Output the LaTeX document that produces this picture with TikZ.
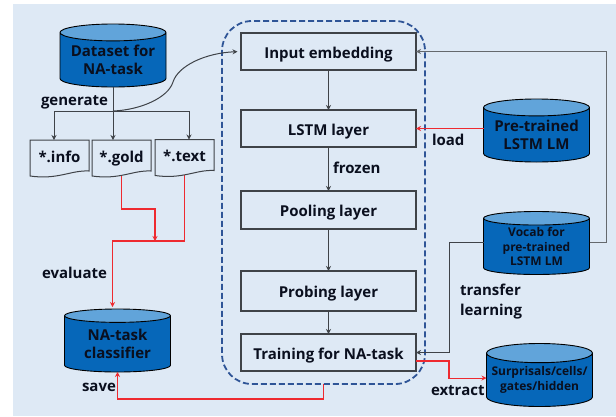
\documentclass[tikz,border=0pt]{standalone}
\usepackage{fontspec}
\setmainfont{Open Sans}
\usetikzlibrary{arrows.meta,shapes.geometric,calc}
\definecolor{bgc}{HTML}{DEE9F5}
\definecolor{bodyc}{HTML}{0667B9}
\definecolor{topc}{HTML}{61A4DA}
\definecolor{dashc}{HTML}{2F5597}
\definecolor{redc}{HTML}{EE2A30}
\definecolor{linec}{HTML}{3F4348}
\definecolor{inkc}{HTML}{0A0F1E}
\tikzset{
  x=1pt,y=-1pt,
  lay/.style={draw=linec,line width=1.2pt,fill=bgc,minimum width=175pt,text=inkc,font=\fontsize{15}{17}\selectfont\bfseries,inner sep=0pt,outer sep=0pt,text height=14pt,text depth=1pt},
  cyl/.style={cylinder,anchor=shape center,shape border rotate=90,aspect=0.2,draw=black,line width=0.9pt,cylinder uses custom fill,cylinder body fill=bodyc,cylinder end fill=topc,minimum width=106pt,minimum height=63pt,inner sep=0pt,outer sep=0pt,align=center,text=inkc,font=\fontsize{15}{18}\selectfont\bfseries},
  docn/.style={minimum width=59pt,minimum height=31pt,inner sep=0pt,outer sep=0pt,text=inkc,font=\fontsize{15}{17}\selectfont\bfseries,text height=14pt,text depth=1pt},
  lbl/.style={inner sep=0pt,outer sep=0pt,text=inkc,font=\fontsize{15}{19.5}\selectfont\bfseries,align=left},
  conn/.style={draw=linec,line width=1pt,-{Stealth[length=5pt,width=5pt]}},
  redconn/.style={draw=redc,line width=1.05pt,-{Stealth[length=5pt,width=5pt]}},
  docw/.style={draw=linec,line width=1pt,fill=bgc},
}
\newcommand{\docwave}[1]{%
  \draw[docw] (#1.north west) -- (#1.north east) -- (#1.south east)
    .. controls ($(#1.south east)+(-18,-1)$) and ($(#1.south west)+(28,9)$) .. ($(#1.south west)+(0,5)$) -- cycle;}
\begin{document}
\begin{tikzpicture}
\useasboundingbox (0,0) rectangle (616,416);
\fill[bgc] (13,4) rectangle (616,416);

\node[draw=dashc,line width=1.8pt,dash pattern=on 6pt off 3pt,rounded corners=30pt,minimum width=203pt,minimum height=363pt,inner sep=0pt,outer sep=0pt] (frame) at (323.5,202.5) {};

\node[lay,minimum height=37pt] (input) at (328.5,51.5) {Input embedding};
\node[lay,minimum height=37pt] (lstm) at (328.5,128.5) {LSTM layer};
\node[lay,minimum height=38pt] (pool) at (328.5,210) {Pooling layer};
\node[lay,minimum height=40pt] (probe) at (328.5,291) {Probing layer};
\node[lay,minimum height=37pt] (train) at (328.5,352.5) {Training for NA-task};

\node[cyl] (dataset) at (113,55.5) {Dataset for\\NA-task};
\node[cyl] (clf) at (117.5,340.5) {NA-task\\classifier};
\node[cyl] (pre) at (536.5,130.5) {Pre-trained\\LSTM LM};
\node[cyl,font=\fontsize{12}{14.5}\selectfont\bfseries] (vocab) at (536.5,243) {Vocab for\\pre-trained\\LSTM LM};
\node[cyl,font=\fontsize{12}{15}\selectfont\bfseries] (surp) at (539.5,375) {Surprisals/cells/\\gates/hidden};

\node[docn] (info) at (59.5,155.5) {};
\node[docn] (gold) at (121.5,155.5) {};
\node[docn] (text) at (184.5,155) {};

\coordinate (fork) at (113,111);
\coordinate (joinb) at (155,241);
\coordinate (vr) at (606,242);
\coordinate (vl) at (449,242);

\draw[conn] (dataset.south) -- (dataset.south |- gold.north);
\draw[conn] (fork) -| ($(info.north)+(-5.5,0)$);
\draw[conn] (fork) -| ($(text.north)+(4.5,0)$);
\draw[conn,shorten >=3.5pt] (fork) .. controls (140,110) and (168,98) .. (173,82) .. controls (178,66) and (205,53) .. (input.west);

\draw[redconn] (gold.south) |- (155,209) -- (joinb);
\draw[redconn] (text.south) |- (joinb) -| (112.5,307);
\draw[redconn] (frame.south) |- (117.5,399) -- (clf.south);

\draw[conn] (input) -- (lstm);
\draw[conn] (lstm) -- (pool);
\draw[conn] (pool) -- (probe);
\draw[conn] (probe) -- (train);

\draw[redconn] (pre.west |- lstm.east) -- (lstm.east);
\draw[conn,draw=linec!80] (vocab.east |- vr) -- (vr) |- (input.east);
\draw[conn] (vocab.west |- vl) -- (vl) |- (train.east);
\draw[redconn] ($(train.east)+(0,8.5)$) -- ++(33,0) |- ($(surp.west)+(0,-2)$ |- 0,372);

\docwave{info}\docwave{gold}\docwave{text}
\node[docn] (infot) at (59.5,155.5) {*.info};
\node[docn] (goldt) at (121.5,155.5) {*.gold};
\node[docn] (textt) at (184.5,154.5) {*.text};

\node[lbl,anchor=base west] (l1) at (41,105) {generate};
\node[lbl,anchor=base west] (l2) at (42,278) {evaluate};
\node[lbl,anchor=base west] (l3) at (82,391) {save};
\node[lbl,anchor=base west] (l4) at (432,145) {load};
\node[lbl,anchor=base west] (l5) at (333,173) {frozen};
\node[lbl,anchor=west] (l6) at (460,301.5) {transfer\\learning};
\node[lbl,anchor=base west] (l7) at (431,395) {extract};
\end{tikzpicture}
\end{document}
